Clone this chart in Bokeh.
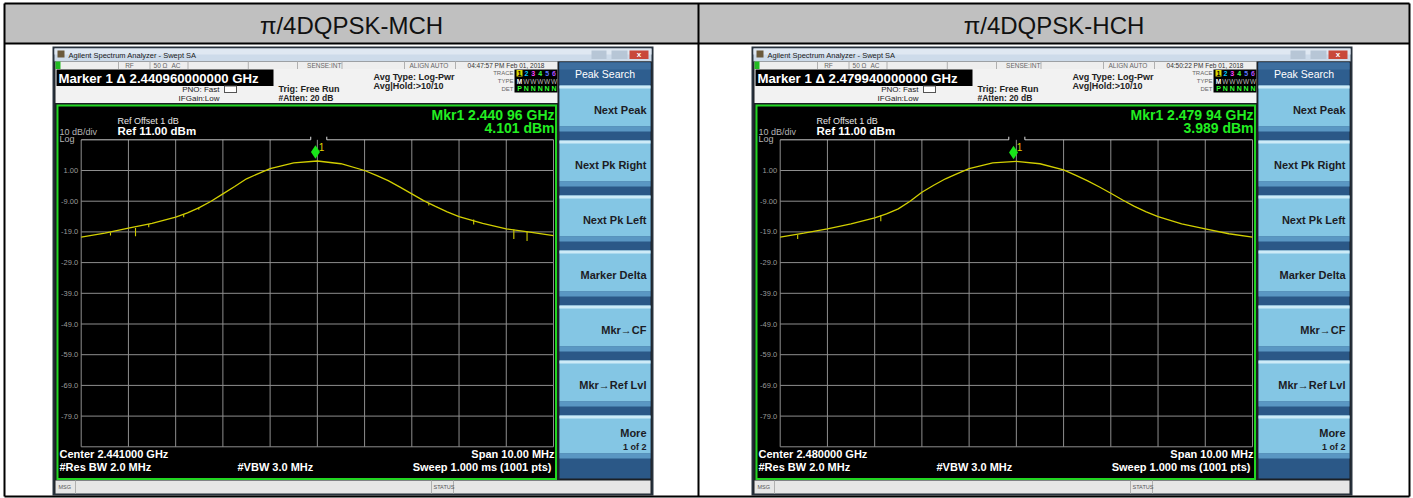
from bokeh.plotting import figure
from bokeh.models import Range1d, ColumnDataSource
from bokeh.core.properties import value
from bokeh.embed import file_html
from bokeh.resources import INLINE

# ---------------- data ----------------
panel_titles = ["π/4DQPSK-MCH", "π/4DQPSK-HCH"]
center_freq_mhz = [2441.0, 2480.0]
span_mhz = 10.0
ref_level_dbm = 11.0
db_per_div = 10.0
ytick_values = [1, -9, -19, -29, -39, -49, -59, -69, -79]
ytick_labels = ["1.00", "-9.00", "-19.0", "-29.0", "-39.0", "-49.0", "-59.0", "-69.0", "-79.0"]

trace_offset_mhz = [-5, -4.5, -4, -3.5, -3, -2.75, -2.5, -2.25, -2, -1.75, -1.5, -1.25, -1, -0.5, 0,
                    0.5, 1, 1.25, 1.5, 1.75, 2, 2.25, 2.5, 2.75, 3, 3.5, 4, 4.5, 5]
mch_trace_dbm = [-20.7, -19.4, -17.8, -16.2, -14.2, -12.8, -11.1, -9.0, -6.6, -4.2, -1.7, 0.0, 1.6, 3.5, 4.1,
                 3.2, 1.0, -0.6, -2.3, -4.4, -6.6, -8.8, -10.7, -12.5, -14.0, -16.2, -18.0, -19.1, -20.2]
hch_trace_dbm = [-20.7, -19.4, -18.0, -16.4, -14.4, -13.1, -11.5, -9.0, -6.1, -3.8, -1.7, 0.0, 1.6, 3.5, 4.0,
                 3.2, 1.2, -0.5, -2.3, -4.3, -6.4, -8.6, -10.7, -12.5, -14.0, -16.4, -18.0, -19.6, -20.7]

mch_spike_offset = [-4.38, -3.85, -3.57, -2.83, -2.51, 2.36, 3.31, 4.16, 4.44]
mch_spike_top = [-19.2, -17.7, -16.4, -13.2, -11.0, -9.6, -15.0, -18.2, -18.8]
mch_spike_bottom = [-20.2, -20.4, -17.5, -14.2, -11.8, -10.4, -16.6, -21.3, -22.0]
hch_spike_offset = [-4.63, -2.87]
hch_spike_top = [-20.0, -13.6]
hch_spike_bottom = [-21.3, -15.5]

marker_freq_mhz = [2440.96, 2479.94]
marker_level_dbm = [4.101, 3.989]
marker_header = ["Marker 1 Δ 2.440960000000 GHz", "Marker 1 Δ 2.479940000000 GHz"]
mkr_freq_text = ["Mkr1 2.440 96 GHz", "Mkr1 2.479 94 GHz"]
mkr_level_text = ["4.101 dBm", "3.989 dBm"]
center_text = ["Center 2.441000 GHz", "Center 2.480000 GHz"]
timestamps = ["04:47:57 PM Feb 01, 2018", "04:50:22 PM Feb 01, 2018"]
softkeys = ["Next Peak", "Next Pk Right", "Next Pk Left", "Marker Delta", "Mkr→CF", "Mkr→Ref Lvl", "More"]

traces = [mch_trace_dbm, hch_trace_dbm]
spikes = [(mch_spike_offset, mch_spike_top, mch_spike_bottom),
          (hch_spike_offset, hch_spike_top, hch_spike_bottom)]

# ---------------- layout / style ----------------
W, H = 1413, 498
DX = 699.0
GRID_L, GRID_R, GRID_T, GRID_B = 80.7, 553.0, 139.3, 446.3
GRID_C = "#8e8e8e"
FONT = "Liberation Sans"

p = figure(width=W, height=H, x_range=Range1d(0, W), y_range=Range1d(H, 0),
           output_backend="svg", toolbar_location=None, min_border=0,
           x_axis_location=None, y_axis_location=None)
p.xgrid.visible = False
p.ygrid.visible = False
p.outline_line_color = None
p.background_fill_color = "white"
p.border_fill_color = "white"

rects = dict(l=[], r=[], t=[], b=[], c=[])
def R(x0, y0, x1, y1, c):
    rects["l"].append(x0); rects["r"].append(x1)
    rects["t"].append(y0); rects["b"].append(y1); rects["c"].append(c)

segs = dict(x0=[], y0=[], x1=[], y1=[], c=[], w=[])
def S(x0, y0, x1, y1, c, w=1.0):
    segs["x0"].append(x0); segs["y0"].append(y0); segs["x1"].append(x1)
    segs["y1"].append(y1); segs["c"].append(c); segs["w"].append(w)

texts = []
def T(x, y, s, size, color="#000", align="left", bold=False, font=FONT):
    texts.append((x, y, s, size, color, align, bold, font))

# table header
R(4, 3, 1409, 43, "#c0c0c0")
for i in range(2):
    cx = (4 + 698) / 2 if i == 0 else (698 + 1409) / 2
    T(cx, 24.5, panel_titles[i], 24, "#111", "center", False)

for i in range(2):
    ox = i * DX
    # window frame & title bar
    R(52 + ox, 46, 653 + ox, 495, "#28323d")
    R(54 + ox, 48, 651 + ox, 61, "#cddbea")
    R(54 + ox, 48, 651 + ox, 54, "#dfe8f2")
    R(57 + ox, 50, 64 + ox, 57, "#6a5a3c")
    T(68 + ox, 54.5, "Agilent Spectrum Analyzer - Swept SA", 7.5, "#1a1a1a")
    R(591 + ox, 50, 606 + ox, 58.5, "#b7c6d6")
    R(611 + ox, 50, 627 + ox, 58.5, "#b7c6d6")
    R(629 + ox, 50, 648 + ox, 58.5, "#c9483a")
    T(638.5 + ox, 54.2, "x", 8, "#ffffff", "center", True)
    # body
    R(54 + ox, 61, 651 + ox, 493, "#1b1f24")
    # status row
    R(55 + ox, 61, 557 + ox, 68.5, "#eeeeee")
    R(55 + ox, 61, 60 + ox, 68.5, "#22bb22")
    for sx in [118, 149.5, 187.5, 247.8, 297, 341.5, 404, 455]:
        S(sx + ox, 61, sx + ox, 68.5, "#b0b0b0")
    T(129 + ox, 64.8, "RF", 6.5, "#666", "center")
    T(160 + ox, 64.8, "50 Ω", 6.5, "#666", "center")
    T(175.5 + ox, 64.8, "AC", 6.5, "#666", "center")
    T(323.7 + ox, 64.8, "SENSE:INT", 6.5, "#666", "center")
    T(428.6 + ox, 64.8, "ALIGN AUTO", 6.5, "#666", "center")
    T(505.5 + ox, 64.8, timestamps[i], 6.5, "#333", "center")
    # marker row
    R(55 + ox, 68.5, 557 + ox, 102.5, "#f2f2f2")
    R(56 + ox, 69, 273 + ox, 85.5, "#000000")
    T(58 + ox, 77.5, marker_header[i], 13.2, "#ffffff", "left", True)
    T(219 + ox, 89, "PNO: Fast", 8, "#222", "right")
    T(219 + ox, 97.5, "IFGain:Low", 8, "#222", "right")
    R(223.5 + ox, 85, 236.5 + ox, 92.5, "#555555")
    R(224.5 + ox, 86, 235.5 + ox, 91.5, "#ffffff")
    T(278 + ox, 88.5, "Trig: Free Run", 9, "#222", "left", True)
    T(278 + ox, 97.5, "#Atten: 20 dB", 8.5, "#222", "left", True)
    T(373 + ox, 76, "Avg Type: Log-Pwr", 9, "#222", "left", True)
    T(373 + ox, 85, "Avg|Hold:>10/10", 9, "#222", "left", True)
    T(513 + ox, 72.5, "TRACE", 6, "#666", "right")
    T(513 + ox, 80.5, "TYPE", 6, "#666", "right")
    T(513 + ox, 88.3, "DET", 6, "#666", "right")
    R(514 + ox, 69, 557 + ox, 92, "#000000")
    R(516 + ox, 69.5, 522 + ox, 76, "#d8d800")
    digit_c = ["#000000", "#00c8ff", "#ff40ff", "#40ff40", "#5a78ff", "#b050ff"]
    for k in range(6):
        T(519 + ox + k * 6.9, 72.8, str(k + 1), 7, digit_c[k], "center", True)
        T(519 + ox + k * 6.9, 80.5, "M" if k == 0 else "W", 6.5, "#ffffff" if k == 0 else "#bbbbbb", "center", k == 0)
        T(519 + ox + k * 6.9, 88.3, "P" if k == 0 else "N", 7, "#33ff33", "center", True)
    # graph area
    R(56 + ox, 104, 556.5 + ox, 479.5, "#22d622")
    R(58 + ox, 106, 554.5 + ox, 477.5, "#000000")
    T(59 + ox, 131, "10 dB/div", 9, "#b4b4b4")
    T(59 + ox, 138.5, "Log", 9, "#b4b4b4")
    T(117 + ox, 120, "Ref Offset 1 dB", 9, "#e6e6e6")
    T(117 + ox, 130.5, "Ref " + f"{ref_level_dbm:.2f}" + " dBm", 11.5, "#ffffff", "left", True)
    T(554 + ox, 114, mkr_freq_text[i], 14, "#22ee22", "right", True)
    T(554 + ox, 127, mkr_level_text[i], 14, "#22ee22", "right", True)
    T(59 + ox, 453.5, center_text[i], 11, "#ffffff", "left", True)
    T(59 + ox, 466.5, "#Res BW 2.0 MHz", 11, "#ffffff", "left", True)
    T(237 + ox, 466.5, "#VBW 3.0 MHz", 11, "#ffffff", "left", True)
    T(554 + ox, 453.5, f"Span {span_mhz:.2f} MHz", 11, "#ffffff", "right", True)
    T(554 + ox, 466.5, "Sweep  1.000 ms (1001 pts)", 11, "#ffffff", "right", True)
    # softkeys
    R(559 + ox, 62, 650 + ox, 478, "#2b5887")
    R(559 + ox, 62, 650 + ox, 84, "#2e5e8f")
    R(559 + ox, 62, 650 + ox, 69, "#3d6e9f")
    T(604.5 + ox, 73, "Peak Search", 10.5, "#ffffff", "center")
    for k, key in enumerate(softkeys):
        y0 = 85 + 55 * k
        y1 = y0 + (38 if k == 6 else 41)
        R(559 + ox, y0, 650 + ox, y1, "#84c6e4")
        R(559 + ox, y0, 650 + ox, y0 + 3, "#cdebf7")
        R(559 + ox, y1, 650 + ox, y1 + 5, "#5a97c3")
        if k == 6:
            T(646 + ox, 432, key, 11, "#1c1c24", "right", True)
            T(646 + ox, 446.5, "1 of 2", 9, "#1c1c24", "right", True)
        else:
            T(646 + ox, y0 + 24, key, 11, "#1c1c24", "right", True)
    # message bar
    R(55 + ox, 480, 650 + ox, 493, "#e6e6e6")
    for sx in [75, 431, 453]:
        S(sx + ox, 480, sx + ox, 493, "#b0b0b0")
    T(58 + ox, 486.5, "MSG", 5.5, "#555")
    T(433 + ox, 486.5, "STATUS", 5.5, "#555")

# table borders
S(4, 3, 1409, 3, "#000", 2)
S(4, 496, 1409, 496, "#000", 2)
S(4, 3, 4, 496, "#000", 2)
S(1409, 3, 1409, 496, "#000", 2)
S(698, 3, 698, 496, "#000", 2)
S(4, 43, 1409, 43, "#000", 2)

p.quad(left="l", right="r", top="t", bottom="b", fill_color="c", line_color=None,
       source=ColumnDataSource(rects))
p.segment(x0="x0", y0="y0", x1="x1", y1="y1", line_color="c", line_width="w",
          source=ColumnDataSource(segs))

# ---------------- spectrum graticules and traces (data scales) ----------------
for i in range(2):
    ox = i * DX
    fmin = center_freq_mhz[i] - span_mhz / 2
    fmax = center_freq_mhz[i] + span_mhz / 2
    top_db = ref_level_dbm
    bot_db = ref_level_dbm - 10 * db_per_div
    gl, gr = GRID_L + ox, GRID_R + ox
    sx = span_mhz / (gr - gl)
    sy = (top_db - bot_db) / (GRID_B - GRID_T)
    xr, yr = f"freq{i}", f"dbm{i}"
    p.extra_x_ranges[xr] = Range1d(fmin - gl * sx, fmin + (W - gl) * sx)
    p.extra_y_ranges[yr] = Range1d(bot_db - (H - GRID_B) * sy, top_db + GRID_T * sy)
    kw = dict(x_range_name=xr, y_range_name=yr)

    xs = [fmin + k * span_mhz / 10 for k in range(11)]
    p.segment(x0=xs, y0=[bot_db] * 11, x1=xs, y1=[top_db] * 11, line_color=GRID_C, line_width=1, **kw)
    lv = [top_db - k * db_per_div for k in range(1, 11)]
    p.segment(x0=[fmin] * 10, y0=lv, x1=[fmax] * 10, y1=lv, line_color=GRID_C, line_width=1, **kw)
    mf = marker_freq_mhz[i]
    p.segment(x0=[fmin, mf + 0.24], y0=[top_db, top_db], x1=[mf - 0.1, fmax], y1=[top_db, top_db],
              line_color="#c8c8c8", line_width=1, **kw)
    p.segment(x0=[mf - 0.1, mf + 0.24], y0=[top_db, top_db], x1=[mf - 0.1, mf + 0.24],
              y1=[top_db + 1.0, top_db + 1.0], line_color="#e0e0e0", line_width=1, **kw)

    p.text(x=[fmin] * len(ytick_values), y=ytick_values, text=ytick_labels, x_offset=-3,
           text_align="right", text_baseline="middle", text_font=value(FONT),
           text_font_size="7.5px", text_color="#9a9a9a", **kw)

    so, st, sb = spikes[i]
    p.segment(x0=[center_freq_mhz[i] + o for o in so], y0=st,
              x1=[center_freq_mhz[i] + o for o in so], y1=sb,
              line_color="#cfcc00", line_width=1.1, **kw)
    p.line(x=[center_freq_mhz[i] + o for o in trace_offset_mhz], y=traces[i],
           line_color="#d2cf00", line_width=1.3, **kw)

    p.scatter(x=[mf], y=[marker_level_dbm[i] + 2.9], marker="diamond", size=13.5,
              fill_color="#19e619", line_color=None, **kw)
    p.text(x=[mf], y=[marker_level_dbm[i] + 2.9], text=["1"], x_offset=6, y_offset=-5,
           text_align="center", text_baseline="middle", text_font=value(FONT),
           text_font_size="10px", text_color="#e0d400", **kw)

for (x, y, s, size, color, align, bold, font) in texts:
    p.text(x=[x], y=[y], text=[s], text_font=value(font), text_font_size=f"{size}px",
           text_color=color, text_align=align, text_baseline="middle",
           text_font_style="bold" if bold else "normal")

open("out.html", "w").write(file_html(p, INLINE))
